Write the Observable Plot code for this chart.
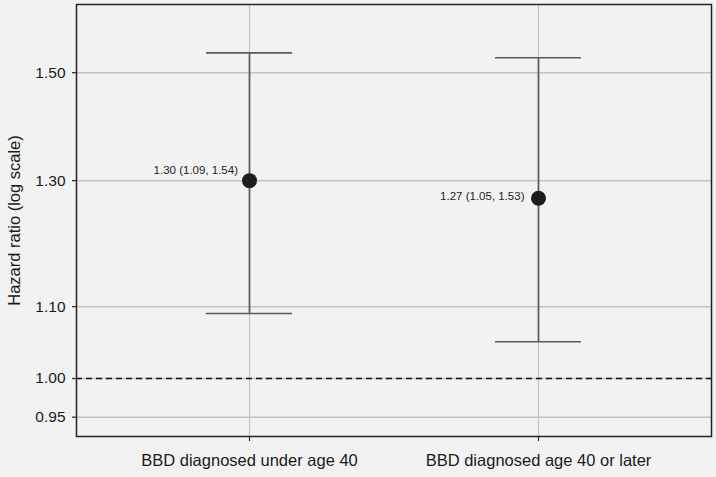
<!DOCTYPE html>
<html>
<head>
<meta charset="utf-8">
<script src="https://cdn.jsdelivr.net/npm/d3@7"></script>
<script src="https://cdn.jsdelivr.net/npm/@observablehq/plot@0.6"></script>
<style>
  html, body { margin: 0; padding: 0; background: #f2f2f2; }
  #chart svg { display: block; }
</style>
</head>
<body>
<div id="chart"></div>
<script>
const categories = ["BBD diagnosed under age 40", "BBD diagnosed age 40 or later"];
const hazardRatio = [1.30, 1.27];
const lowerCI = [1.09, 1.05];
const upperCI = [1.54, 1.53];
const estimateLabels = ["1.30 (1.09, 1.54)", "1.27 (1.05, 1.53)"];
const yTicks = [0.95, 1.00, 1.10, 1.30, 1.50];
const yTickLabels = ["0.95", "1.00", "1.10", "1.30", "1.50"];
const referenceLine = [1.00];
const yTitle = "Hazard ratio (log scale)";

const rows = categories.map((c, i) => ({
  cat: c, hr: hazardRatio[i], lo: lowerCI[i], hi: upperCI[i], label: estimateLabels[i]
}));
const yTickRows = yTicks.map((v, i) => ({v, t: yTickLabels[i]}));

const font = "'Liberation Sans', Arial, Helvetica, sans-serif";
const gridColor = "#c4c4c4";
const barColor = "#5a5a5a";

const chart = Plot.plot({
  width: 716,
  height: 477,
  marginLeft: 76,
  marginRight: 5,
  marginTop: 4,
  marginBottom: 41,
  style: {background: "#f2f2f2", fontFamily: font, color: "#1a1a1a"},
  x: {type: "band", domain: categories, paddingInner: 0.7024, paddingOuter: 0.4498, axis: null},
  y: {type: "log", domain: [0.926, 1.642], axis: null},
  marks: [
    Plot.ruleX(categories, {x: d => d, stroke: gridColor, strokeWidth: 1.2}),
    Plot.ruleY(yTicks, {y: d => d, stroke: gridColor, strokeWidth: 1.5}),
    Plot.ruleY(referenceLine, {y: d => d, stroke: "#111", strokeWidth: 1.6, strokeDasharray: "6,4"}),
    Plot.ruleX(rows, {x: "cat", y1: "lo", y2: "hi", stroke: barColor, strokeWidth: 1.7}),
    Plot.tickY(rows, {x: "cat", y: "lo", stroke: barColor, strokeWidth: 1.6}),
    Plot.tickY(rows, {x: "cat", y: "hi", stroke: barColor, strokeWidth: 1.6}),
    Plot.dot(rows, {x: "cat", y: "hr", r: 7.5, fill: "#1f1c1d", stroke: "none"}),
    Plot.text(rows.slice(0, 1), {x: "cat", y: "hr", text: "label", textAnchor: "end", dx: -11.5, dy: -10, fontSize: 11.5, fill: "#222"}),
    Plot.text(rows.slice(1, 2), {x: "cat", y: "hr", text: "label", textAnchor: "end", dx: -14, dy: -1.5, fontSize: 11.5, fill: "#222"}),
    Plot.frame({stroke: "#222", strokeWidth: 1.5}),
    // y ticks and labels
    Plot.tickY(yTickRows, {y: "v", insetRight: 631, dx: -4, stroke: "#222", strokeWidth: 1.2}),
    Plot.text(yTickRows, {y: "v", text: "t", frameAnchor: "left", textAnchor: "end", dx: -11, fontSize: 15.5, fill: "#1a1a1a"}),
    // x ticks and labels
    Plot.tickX(categories, {x: d => d, insetTop: 427, dy: 5, stroke: "#222", strokeWidth: 1.2}),
    Plot.text(categories, {x: d => d, text: d => d, frameAnchor: "bottom", dy: 29, fontSize: 16.5, fill: "#1a1a1a"}),
    // y title
    Plot.text([yTitle], {text: d => d, frameAnchor: "left", textAnchor: "middle", rotate: -90, dx: -62, fontSize: 16.5, fill: "#1a1a1a"})
  ]
});
document.getElementById("chart").appendChild(chart);
</script>
</body>
</html>
